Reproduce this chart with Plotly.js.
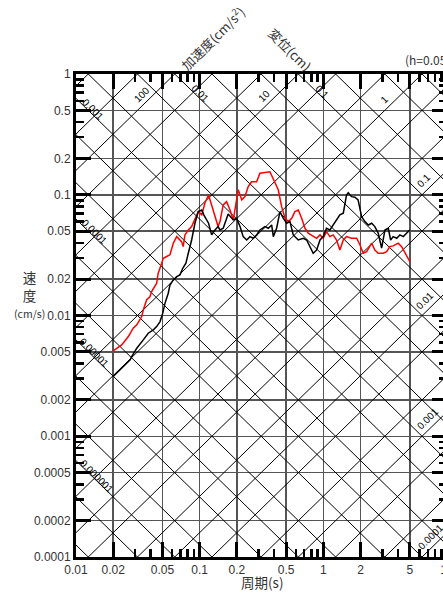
<!DOCTYPE html>
<html><head><meta charset="utf-8">
<script src="https://cdn.plot.ly/plotly-3.0.1.min.js"></script>
<style>html,body{margin:0;padding:0;overflow:hidden;background:#fff}#chart{width:460px;height:592px}</style>
</head><body><div id="chart"></div>
<script>
// ---- data: period (s) and velocity response (cm/s) ----
const periodRed = [0.02,0.0234,0.0265,0.029,0.031,0.034,0.035,0.0373,0.0396,0.0409,
0.0449,0.0462,0.0493,0.0508,0.0541,0.0575,0.0612,0.0652,0.0714,0.0736,
0.076,0.0809,0.0861,0.0916,0.0975,0.104,0.11,0.118,0.125,0.133,
0.141,0.146,0.155,0.165,0.176,0.187,0.205,0.219,0.232,0.247,
0.263,0.289,0.307,0.37,0.394,0.432,0.46,0.49,0.52,0.555,
0.589,0.627,0.668,0.71,0.755,0.828,0.883,0.94,0.998,1.06,
1.13,1.2,1.28,1.36,1.45,1.54,1.69,1.86,1.98,2.1,
2.24,2.46,2.61,2.78,3.05,3.25,3.45,3.67,4.03,4.3,
4.71,5.0];
const velocityRed = [0.00509,0.00571,0.00669,0.00785,0.00836,0.0098,0.0111,0.0135,0.0143,0.0158,
0.0185,0.0224,0.0271,0.0298,0.0308,0.0318,0.0397,0.045,0.0409,0.0372,
0.0465,0.0511,0.0545,0.0619,0.0725,0.0681,0.0851,0.0996,0.0824,0.0659,
0.0545,0.0599,0.0824,0.0877,0.0748,0.0619,0.11,0.0906,0.0965,0.117,
0.128,0.128,0.151,0.155,0.133,0.11,0.0797,0.0639,0.0599,0.0639,
0.0725,0.0748,0.0639,0.0528,0.048,0.045,0.0436,0.0465,0.0436,0.0495,
0.045,0.0465,0.0422,0.0349,0.0422,0.045,0.0436,0.0436,0.0384,0.0328,
0.0338,0.0397,0.0349,0.0328,0.0328,0.0338,0.0372,0.0377,0.0397,0.0372,
0.0318,0.028];
const periodBlack = [0.02,0.0274,0.0282,0.031,0.035,0.0384,0.0422,0.0449,0.0478,0.0502,
0.0524,0.0557,0.0575,0.0612,0.0652,0.0693,0.073,0.0774,0.0809,0.0861,
0.0916,0.0975,0.104,0.108,0.118,0.125,0.133,0.141,0.146,0.155,
0.17,0.187,0.199,0.212,0.225,0.24,0.255,0.271,0.289,0.307,
0.337,0.359,0.382,0.394,0.419,0.446,0.474,0.505,0.537,0.571,
0.627,0.689,0.733,0.78,0.828,0.883,0.94,0.998,1.06,1.13,
1.2,1.28,1.36,1.45,1.54,1.59,1.69,1.8,1.91,2.04,
2.17,2.31,2.46,2.61,2.78,2.96,3.15,3.35,3.5,3.67,
3.92,4.16,4.43,4.71,5.0];
const velocityBlack = [0.00312,0.00429,0.00457,0.00536,0.00628,0.00713,0.0076,0.00809,0.00891,0.0104,
0.0126,0.0153,0.0179,0.0197,0.021,0.0217,0.0246,0.0271,0.0328,0.0422,
0.0581,0.0725,0.0748,0.0681,0.0581,0.0465,0.0511,0.0545,0.0511,0.0528,
0.0694,0.0619,0.0639,0.0545,0.045,0.0422,0.045,0.0436,0.0465,0.0511,
0.0545,0.0528,0.0562,0.045,0.0528,0.0725,0.0639,0.0581,0.0599,0.0465,
0.0422,0.0436,0.0422,0.0372,0.0328,0.0349,0.0422,0.045,0.0528,0.0511,
0.0562,0.0619,0.0681,0.0703,0.0996,0.104,0.0965,0.0954,0.0906,0.0659,
0.0599,0.0562,0.0581,0.0545,0.048,0.0361,0.0511,0.0528,0.0422,0.045,
0.0436,0.0465,0.045,0.048,0.0511];

// tripartite grid values
const accelGrid = [0.0001,0.0002,0.0005,0.001,0.002,0.005,0.01,0.02,0.05,0.1,0.2,0.5,1,2,5,10,20,50,100,200,500];
const dispGrid = [2e-7,5e-7,1e-6,2e-6,5e-6,1e-5,2e-5,5e-5,1e-4,2e-4,5e-4,0.001,0.002,0.005,0.01,0.02,0.05,0.1,0.2,0.5,1];
const accelLabelValues = [100,10,1,0.1,0.01,0.001,0.0001];
const accelLabelText = ['100','10','1','0.1','0.01','0.001','0.0001'];
const dispLabelValues = [0.001,0.0001,0.00001,0.000001,0.01,0.1];
const dispLabelText = ['0.001','0.0001','0.00001','0.000001','0.01','0.1'];

// ticks
const xMajor = [0.01,0.02,0.05,0.1,0.2,0.5,1,2,5,10];
const xMajorText = ['0.01','0.02','0.05','0.1','0.2','0.5','1','2','5','10'];
const xMinor = [0.03,0.04,0.06,0.07,0.08,0.09,0.3,0.4,0.6,0.7,0.8,0.9,3,4,6,7,8,9];
const yMajor = [0.0001,0.0002,0.0005,0.001,0.002,0.005,0.01,0.02,0.05,0.1,0.2,0.5,1];
const yMajorText = ['0.0001','0.0002','0.0005','0.001','0.002','0.005','0.01','0.02','0.05','0.1','0.2','0.5','1'];
const yMinor = [0.0003,0.0004,0.0006,0.0007,0.0008,0.0009,0.003,0.004,0.006,0.007,0.008,0.009,
0.03,0.04,0.06,0.07,0.08,0.09,0.3,0.4,0.6,0.7,0.8,0.9];

// label placement (period along the line, pixel shift)
const accelLabelPeriods = [0.034,0.334,3.1,6.5,6.63,7.0,7.4];
const dispLabelPeriods = [0.0137,0.014,0.014,0.0148,0.101,0.97];

const TWO_PI = 2*Math.PI;
const T0 = 0.01, T1 = 10;

// build diagonal lines
const ax = [], ay = [];
accelGrid.forEach(a => { ax.push(T0, T1, null); ay.push(a*T0/TWO_PI, a*T1/TWO_PI, null); });
const dx = [], dy = [];
dispGrid.forEach(d => { dx.push(T0, T1, null); dy.push(TWO_PI*d/T0, TWO_PI*d/T1, null); });

const traces = [
  {x: ax, y: ay, mode:'lines', line:{color:'#000', width:1}, hoverinfo:'skip', connectgaps:false},
  {x: dx, y: dy, mode:'lines', line:{color:'#000', width:1}, hoverinfo:'skip', connectgaps:false},
  {x: periodRed, y: velocityRed, mode:'lines', line:{color:'#ff0000', width:1.5}, name:'red'},
  {x: periodBlack, y: velocityBlack, mode:'lines', line:{color:'#000000', width:1.5}, name:'black'}
];

const annotations = [];
accelLabelValues.forEach((a,i) => {
  const T = accelLabelPeriods[i];
  annotations.push({x: Math.log10(T), y: Math.log10(a*T/TWO_PI), xref:'x', yref:'y', text: accelLabelText[i],
    xanchor:'center', yanchor:'middle',
    showarrow:false, textangle:-45, yshift:12, font:{size:10, color:'#000'}});
});
dispLabelValues.forEach((d,i) => {
  const T = dispLabelPeriods[i];
  annotations.push({x: Math.log10(T), y: Math.log10(TWO_PI*d/T), xref:'x', yref:'y', text: dispLabelText[i],
    xanchor:'center', yanchor:'middle',
    showarrow:false, textangle:45, yshift:5, font:{size:10, color:'#000'}});
});
const jp = '"Noto Sans CJK JP", sans-serif';
function note(x, y, text, size, extra) {
  return Object.assign({xref:'paper', yref:'paper', x:x, y:y, text:text, showarrow:false,
    xanchor:'center', yanchor:'middle', font:{family:jp, size:size, color:'#333'}}, extra || {});
}
annotations.push(
  note(-0.126, 0.5445, '速<br>度<br><span style="font-size:10.5px">(cm/s)</span>', 13.5),
  note(0.5, -0.0508, '周期(s)', 13.5),
  note(0.3666, 1.0745, '加速度(cm/s<sup>2</sup>)', 13, {textangle:-45}),
  note(0.5768, 1.0497, '変位(cm)', 13, {textangle:45}),
  note(0.8814, 1.029, '(h=0.05)', 12, {xanchor:'left'})
);

const axisCommon = {
  type:'log', tickmode:'array', ticks:'inside', ticklen:15, tickwidth:3, tickcolor:'#000',
  showline:true, linecolor:'#000', linewidth:3, mirror:'allticks',
  showgrid:true, gridcolor:'#555', gridwidth:1.5, zeroline:false, fixedrange:true,
  tickfont:{family:'"Liberation Sans", Arial, sans-serif', size:12, color:'#333'}
};
const layout = {
  width:460, height:592,
  margin:{l:76, r:13, t:74, b:35, pad:0},
  paper_bgcolor:'#fff', plot_bgcolor:'#fff', showlegend:false,
  font:{family:'"Liberation Sans", Arial, "Noto Sans CJK JP", sans-serif', color:'#333', size:12},
  xaxis: Object.assign({}, axisCommon, {range:[-2,1], tickvals:xMajor, ticktext:xMajorText,
    minor:{tickmode:'array', tickvals:xMinor, ticks:'inside', ticklen:8, tickwidth:2.5, tickcolor:'#000', showgrid:false}}),
  yaxis: Object.assign({}, axisCommon, {range:[-4,0], tickvals:yMajor, ticktext:yMajorText,
    minor:{tickmode:'array', tickvals:yMinor, ticks:'inside', ticklen:8, tickwidth:2.5, tickcolor:'#000', showgrid:false}}),
  annotations: annotations
};
Plotly.newPlot('chart', traces, layout, {staticPlot:true, displayModeBar:false});
</script>
</body></html>
